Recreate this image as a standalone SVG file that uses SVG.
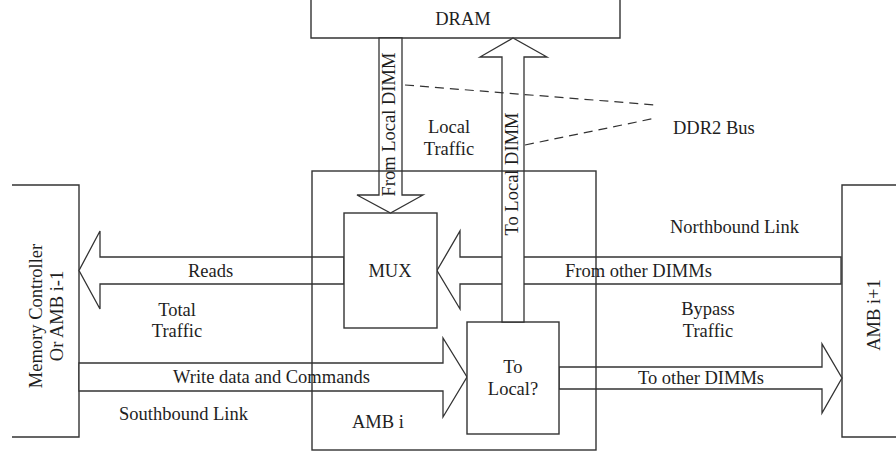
<svg xmlns="http://www.w3.org/2000/svg" width="896" height="453" viewBox="0 0 896 453">
  <style>
    .box { fill: #ffffff; stroke: #333333; stroke-width: 1.4; }
    .open { fill: none; stroke: #333333; stroke-width: 1.4; }
    .arrow { fill: #ffffff; stroke: #333333; stroke-width: 1.3; stroke-linejoin: miter; }
    .dash { fill: none; stroke: #333333; stroke-width: 1.2; stroke-dasharray: 9 6; }
    text { font-family: "Liberation Serif", "Times New Roman", serif; font-size: 18.5px; fill: #1e1e1e; }
    .mid { text-anchor: middle; }
  </style>
  <rect width="896" height="453" fill="#ffffff"/>

  <!-- outer boxes -->
  <g id="dram">
    <path class="open" d="M311,-5 V38 H620 V-5"/>
    <text class="mid" x="463" y="25">DRAM</text>
  </g>
  <g id="memory-controller">
    <path class="open" d="M12,185 H79 V437 H12"/>
    <text class="mid" transform="translate(42,316) rotate(-90)">Memory Controller</text>
    <text class="mid" transform="translate(63,316) rotate(-90)">Or AMB i-1</text>
  </g>
  <g id="amb-next">
    <path class="open" d="M900,185 H842 V437 H900"/>
    <text class="mid" transform="translate(880,315) rotate(-90)">AMB i+1</text>
  </g>

  <!-- links and data paths -->
  <g id="connectors">
    <polygon id="reads" class="arrow" points="344,257 100,257 100,231 79,270.5 100,309 100,284 344,284"/>
    <polygon id="from-other-dimms" class="arrow" points="841,257 460,257 460,231 437,270.5 460,309 460,284 841,284"/>
    <polygon id="write-data" class="arrow" points="79,363 443,363 443,338 467,377 443,417 443,391 79,391"/>
    <polygon id="to-other-dimms" class="arrow" points="559,367 822,367 822,344 842,378 822,413 822,389 559,389"/>
  </g>

  <g id="mux">
    <rect class="box" x="344" y="213" width="93" height="115"/>
    <text class="mid" x="390" y="277">MUX</text>
  </g>
  <g id="to-local">
    <rect class="box" x="467" y="322" width="92" height="112"/>
    <text class="mid" x="513" y="373">To</text>
    <text class="mid" x="513" y="395">Local?</text>
  </g>

  <g id="ddr2-paths">
    <polygon id="from-local-dimm" class="arrow" points="379,38 379,195 357,195 390.5,213 423,195 402,195 402,38"/>
    <polygon id="to-local-dimm" class="arrow" points="502,322 502,57 480,57 513,38 547,57 524,57 524,322"/>
    <line class="dash" x1="405" y1="85" x2="656" y2="105"/>
    <line class="dash" x1="525" y1="145" x2="656" y2="118"/>
  </g>

  <g id="amb">
    <rect class="open" x="312" y="171" width="284" height="279"/>
    <text x="352" y="428">AMB i</text>
  </g>

  <!-- labels -->
  <g id="labels">
    <text class="mid" transform="translate(395,124.5) rotate(-90)">From Local DIMM</text>
    <text class="mid" transform="translate(518,174) rotate(-90)">To Local DIMM</text>
    <text class="mid" x="449" y="133">Local</text>
    <text class="mid" x="449" y="155">Traffic</text>
    <text x="673" y="134">DDR2 Bus</text>
    <text x="670" y="233">Northbound Link</text>
    <text x="188" y="277">Reads</text>
    <text x="565" y="277">From other DIMMs</text>
    <text class="mid" x="177" y="316">Total</text>
    <text class="mid" x="177" y="337">Traffic</text>
    <text class="mid" x="708" y="315">Bypass</text>
    <text class="mid" x="708" y="337">Traffic</text>
    <text x="173" y="383">Write data and Commands</text>
    <text class="mid" x="701" y="384">To other DIMMs</text>
    <text x="119" y="420">Southbound Link</text>
  </g>
</svg>
